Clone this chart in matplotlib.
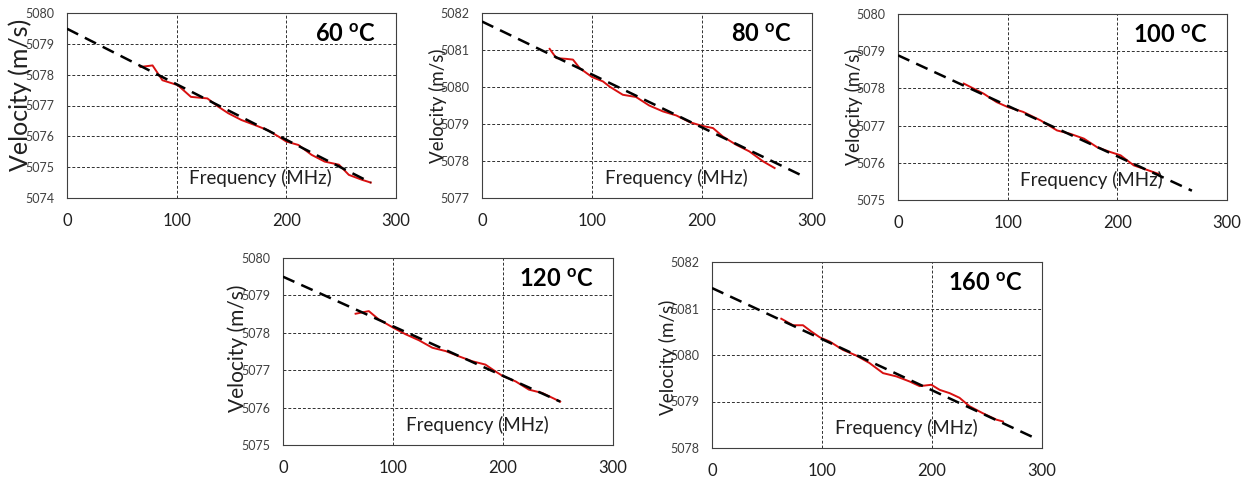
#
# plot.py
#   - Velocity vs frequency at five temperatures, with linear fits.
#

import matplotlib
matplotlib.use("Agg")
import matplotlib.pyplot as plt

plt.rcParams["font.family"] = ["Lato", "DejaVu Sans"]
plt.rcParams["mathtext.fontset"] = "custom"
plt.rcParams["mathtext.rm"] = "Lato"
plt.rcParams["mathtext.bf"] = "Lato:bold"

labels = ["60", "80", "100", "120", "160"]
ylims = [(5074, 5080), (5077, 5082), (5075, 5080), (5075, 5080), (5078, 5082)]

# measured velocity (red)
freq_60 = [67, 78, 87, 101, 113, 128, 138, 147, 159, 171, 183, 193, 200, 211, 223, 235, 248, 257, 269, 277]
vel_60 = [5078.25, 5078.30, 5077.82, 5077.66, 5077.28, 5077.23, 5076.96, 5076.75, 5076.53, 5076.37,
          5076.20, 5075.99, 5075.83, 5075.72, 5075.40, 5075.18, 5075.08, 5074.75, 5074.59, 5074.50]

freq_80 = [61.5, 67.6, 76.7, 82.7, 88.8, 100, 110, 116, 128, 140, 152, 164.5, 176.7, 188.8, 200, 210,
           219, 231, 243, 255.5, 266]
vel_80 = [5081.03, 5080.78, 5080.76, 5080.74, 5080.51, 5080.27, 5080.15, 5080.01, 5079.79, 5079.73,
          5079.50, 5079.34, 5079.23, 5079.05, 5078.95, 5078.89, 5078.66, 5078.44, 5078.26, 5077.99, 5077.81]

freq_100 = [60, 78, 90, 100, 114, 130, 145, 157, 169.5, 181.5, 193.6, 203, 215, 227, 237.7]
vel_100 = [5078.13, 5077.86, 5077.63, 5077.50, 5077.37, 5077.14, 5076.87, 5076.78, 5076.65, 5076.42,
           5076.29, 5076.20, 5075.93, 5075.81, 5075.70]

freq_120 = [66, 78, 87, 100, 111.5, 123.6, 135.8, 148, 160, 172, 184, 193, 200, 211.5, 223.6, 235.8, 252]
vel_120 = [5078.51, 5078.58, 5078.36, 5078.14, 5077.96, 5077.80, 5077.60, 5077.51, 5077.37, 5077.24,
           5077.15, 5076.97, 5076.84, 5076.70, 5076.48, 5076.39, 5076.16]

freq_160 = [63, 73.6, 82.7, 90, 98, 107, 119, 131, 143, 155.5, 167.6, 179.7, 188.8, 199.4, 207, 216,
            225, 234, 246, 258.5, 264.5]
vel_160 = [5080.78, 5080.64, 5080.64, 5080.51, 5080.38, 5080.29, 5080.11, 5079.99, 5079.83, 5079.61,
           5079.54, 5079.43, 5079.33, 5079.36, 5079.25, 5079.18, 5079.08, 5078.90, 5078.75, 5078.61, 5078.57]

# linear fit end points (dashed black)
fit_x = [[0, 277], [0, 292], [0, 268], [0, 252], [0, 293]]
fit_y = [[5079.49, 5074.50], [5081.77, 5077.59], [5078.89, 5075.25], [5079.50, 5076.16], [5081.44, 5078.22]]

freqs = [freq_60, freq_80, freq_100, freq_120, freq_160]
vels = [vel_60, vel_80, vel_100, vel_120, vel_160]

W, H = 1259, 484
# (left, top, right, bottom) in pixels
boxes = [(67, 13, 396, 198), (482, 13, 812, 198), (898, 14, 1227, 200),
         (283, 258, 613, 445), (712, 262, 1042, 448)]
# y label size and vertical position differ a bit between the panels
ylab_size = [18, 13.5, 13.8, 15, 13.6]
ylab_y = [0.56, 0.5, 0.5, 0.52, 0.49]


def main():
    fig = plt.figure(figsize=(W / 100, H / 100), dpi=100)

    for i, (l, t, r, b) in enumerate(boxes):
        ax = fig.add_axes([l / W, 1 - b / H, (r - l) / W, (b - t) / H])
        ax.plot(freqs[i], vels[i], color="#d81010", lw=1.4, zorder=3)
        ax.plot(fit_x[i], fit_y[i], color="black", lw=1.8, dashes=(5, 3), zorder=4)

        ax.set_xlim(0, 300)
        ax.set_ylim(*ylims[i])
        ax.set_xticks([0, 100, 200, 300])
        ax.set_yticks(range(ylims[i][0], ylims[i][1] + 1))
        ax.grid(True, color="#303030", lw=0.7, linestyle=(0, (3, 2)))
        ax.set_axisbelow(True)
        ax.tick_params(axis="both", length=0)
        ax.tick_params(axis="x", labelsize=12, pad=11, colors="#202020")
        ax.tick_params(axis="y", labelsize=9, pad=9, colors="#404040")
        for s in ax.spines.values():
            s.set_color("#404040")
            s.set_linewidth(0.8)

        ax.set_ylabel("Velocity (m/s)", fontsize=ylab_size[i], color="#202020")
        ax.yaxis.set_label_coords(-0.105, ylab_y[i])
        ax.text(0.588, 0.108, "Frequency (MHz)", transform=ax.transAxes,
                fontsize=13.5, ha="center", va="center", color="#202020")
        ax.text(0.94, 0.885, labels[i] + r" $^{\mathbf{o}}$C", transform=ax.transAxes,
                fontsize=17, fontweight="bold", ha="right", va="center")

    fig.savefig("out.png", dpi=100)


if __name__ == '__main__':
    main()
